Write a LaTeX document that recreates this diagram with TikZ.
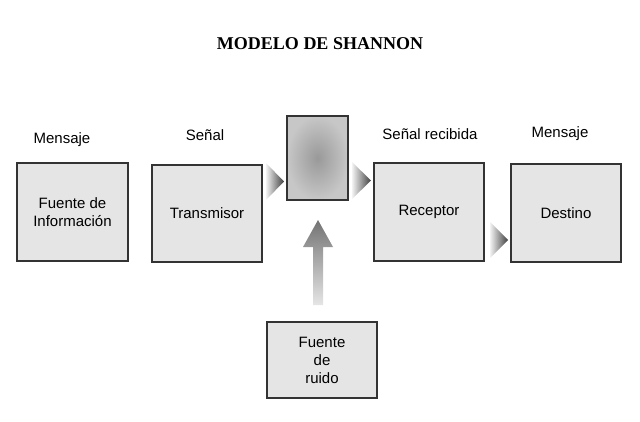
\documentclass[tikz,border=0pt]{standalone}
\usepackage{fontspec}
\setmainfont{Liberation Sans}
\newfontfamily\titlefont{Liberation Serif}
\usetikzlibrary{shadings}
\begin{document}
\begin{tikzpicture}[x=1pt,y=-1pt,
  blk/.style={draw=black!80,line width=1.3pt,fill=black!10,inner sep=0pt,align=center,font=\fontsize{15}{18}\selectfont},
  lbl/.style={font=\fontsize{15}{18}\selectfont},
  tri/.style={left color=black!5,right color=black!75,draw=none}]
\useasboundingbox (0,0) rectangle (640,421);
\node[font=\titlefont\bfseries\fontsize{18}{21}\selectfont] (title) at (320,44) {MODELO DE SHANNON};
\node[blk,minimum width=111pt,minimum height=98pt] (fuente) at (72.5,212) {Fuente de\\Información};
\node[blk,minimum width=110pt,minimum height=97pt] (trans) at (207,213.5) {Transmisor};
\node[draw=black!80,line width=1.3pt,inner color=black!40,outer color=black!22,minimum width=61pt,minimum height=84pt] (canal) at (317.5,158) {};
\node[blk,minimum width=110pt,minimum height=98pt] (recep) at (429,212) {Receptor};
\node[blk,minimum width=110pt,minimum height=98pt] (dest) at (566,213) {Destino};
\node[blk,minimum width=110pt,minimum height=76pt] (ruido) at (322,360) {Fuente\\de\\ruido};
\node[lbl] (m1) at (62,140) {Mensaje};
\node[lbl] (s1) at (205,135) {Señal};
\node[lbl] (s2) at (430,134) {Señal recibida};
\node[lbl] (m2) at (560,134) {Mensaje};
\shade[tri] (266,163) -- (284,181.5) -- (266,200) -- cycle;
\shade[tri] (352,162) -- (371,180.5) -- (352,199) -- cycle;
\shade[tri] (490,222) -- (508,240) -- (490,258) -- cycle;
\shade[top color=black!55,bottom color=black!10,draw=none]
  (318,220) -- (333,247) -- (323,247) -- (323,305) -- (313,305) -- (313,247) -- (303,247) -- cycle;
\end{tikzpicture}
\end{document}
